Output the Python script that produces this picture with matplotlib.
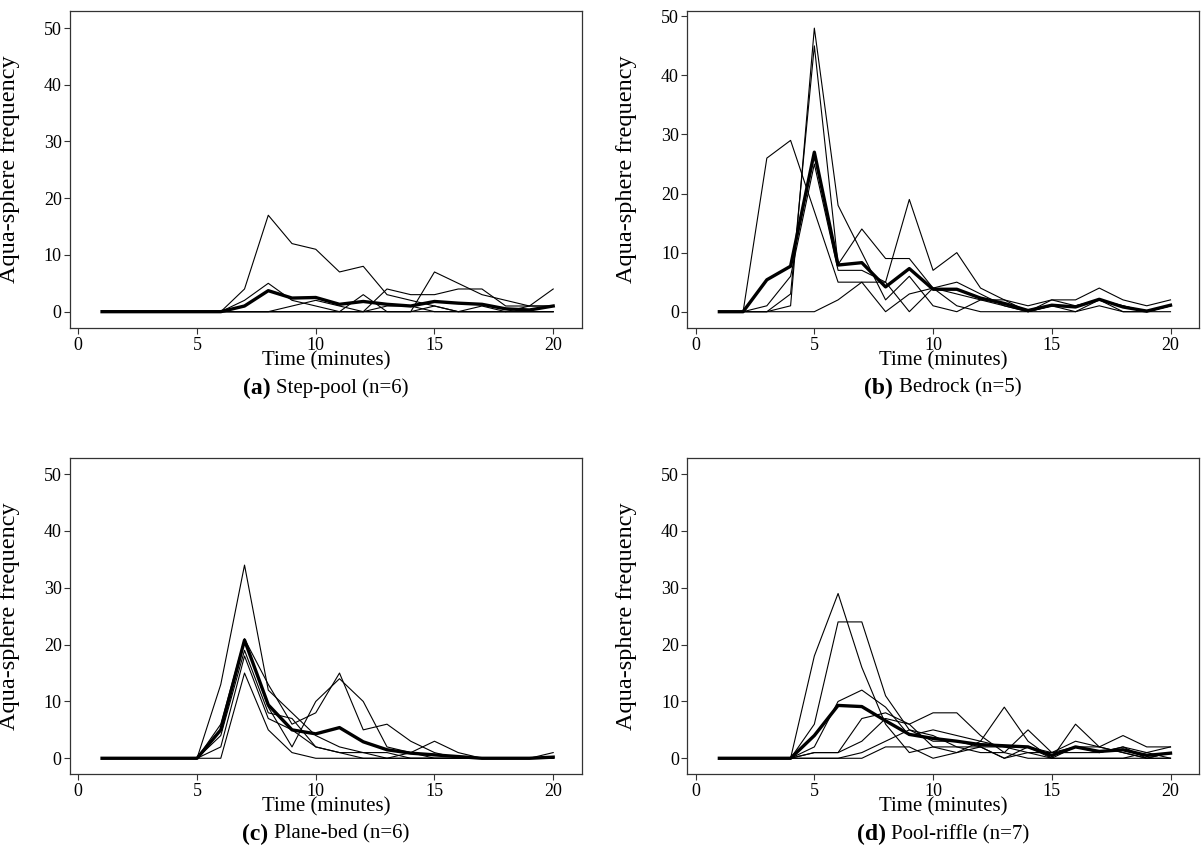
import matplotlib
matplotlib.use("Agg")
import matplotlib.pyplot as plt
import numpy as np

plt.rcParams['font.family'] = ['Liberation Serif', 'DejaVu Serif']

minutes = list(range(1, 21))

# (a) Step-pool (n=6)
a_lines = [
    [0, 0, 0, 0, 0, 0, 4, 17, 12, 11, 7, 8, 3, 2, 1, 0, 0, 0, 0, 0],
    [0, 0, 0, 0, 0, 0, 0, 0, 0, 0, 0, 0, 0, 0, 7, 5, 3, 2, 1, 4],
    [0, 0, 0, 0, 0, 0, 2, 5, 2, 1, 0, 0, 0, 0, 0, 0, 0, 0, 1, 1],
    [0, 0, 0, 0, 0, 0, 0, 0, 1, 2, 1, 0, 1, 1, 0, 0, 1, 0, 0, 0],
    [0, 0, 0, 0, 0, 0, 0, 0, 0, 0, 0, 3, 0, 0, 1, 0, 0, 0, 0, 0],
    [0, 0, 0, 0, 0, 0, 0, 0, 0, 0, 0, 0, 4, 3, 3, 4, 4, 1, 1, 1],
]
a_mean = [0, 0, 0, 0, 0, 0, 1.0, 3.7, 2.4, 2.5, 1.3, 1.8, 1.3, 1.0, 1.8, 1.5, 1.3, 0.5, 0.3, 1.0]

# (b) Bedrock (n=5)
b_lines = [
    [0, 0, 26, 29, 17, 5, 5, 5, 0, 4, 3, 2, 1, 0, 1, 0, 2, 1, 0, 1],
    [0, 0, 0, 1, 48, 18, 10, 2, 6, 1, 0, 2, 2, 0, 2, 2, 4, 2, 1, 2],
    [0, 0, 0, 3, 45, 8, 14, 9, 9, 4, 5, 3, 1, 0, 1, 1, 2, 1, 0, 1],
    [0, 0, 1, 6, 25, 7, 7, 5, 19, 7, 10, 4, 2, 1, 2, 1, 2, 0, 0, 1],
    [0, 0, 0, 0, 0, 2, 5, 0, 3, 4, 1, 0, 0, 0, 0, 0, 1, 0, 0, 0],
]
b_mean = [0, 0, 5.4, 7.7, 27, 7.9, 8.3, 4.2, 7.3, 3.8, 3.8, 2.3, 1.4, 0.2, 1.1, 0.8, 2.1, 0.8, 0.1, 1.1]

# (c) Plane-bed (n=6)
c_lines = [
    [0, 0, 0, 0, 0, 13, 34, 12, 8, 4, 2, 1, 1, 0, 0, 0, 0, 0, 0, 0],
    [0, 0, 0, 0, 0, 6, 21, 13, 6, 8, 15, 5, 6, 3, 1, 0, 0, 0, 0, 0],
    [0, 0, 0, 0, 0, 5, 21, 9, 2, 10, 14, 10, 2, 1, 3, 1, 0, 0, 0, 0],
    [0, 0, 0, 0, 0, 4, 19, 8, 7, 2, 1, 1, 0, 1, 0, 0, 0, 0, 0, 0],
    [0, 0, 0, 0, 0, 2, 18, 7, 5, 2, 1, 0, 0, 0, 0, 0, 0, 0, 0, 0],
    [0, 0, 0, 0, 0, 0, 15, 5, 1, 0, 0, 0, 0, 0, 0, 0, 0, 0, 0, 1],
]
c_mean = [0, 0, 0, 0, 0, 5.0, 20.8, 9.4, 5.0, 4.3, 5.4, 2.9, 1.5, 0.9, 0.6, 0.3, 0, 0, 0, 0.2]

# (d) Pool-riffle (n=7)
d_lines = [
    [0, 0, 0, 0, 18, 29, 16, 6, 1, 2, 2, 1, 1, 0, 0, 2, 1, 2, 0, 1],
    [0, 0, 0, 0, 6, 24, 24, 11, 5, 3, 3, 2, 2, 1, 1, 3, 2, 1, 0, 0],
    [0, 0, 0, 0, 2, 10, 12, 9, 4, 5, 4, 3, 9, 3, 0, 6, 2, 4, 2, 2],
    [0, 0, 0, 0, 1, 1, 7, 8, 6, 8, 8, 4, 1, 5, 1, 1, 1, 2, 1, 2],
    [0, 0, 0, 0, 1, 1, 3, 7, 6, 2, 1, 3, 2, 2, 1, 2, 2, 1, 0, 1],
    [0, 0, 0, 0, 0, 0, 1, 3, 5, 4, 2, 2, 0, 1, 0, 0, 0, 0, 1, 0],
    [0, 0, 0, 0, 0, 0, 0, 2, 2, 0, 1, 2, 0, 2, 0, 0, 0, 0, 0, 0],
]
d_mean = [0, 0, 0, 0, 4.0, 9.3, 9.1, 6.6, 4.2, 3.5, 3.0, 2.4, 2.2, 2.0, 0.5, 2.0, 1.2, 1.5, 0.5, 0.9]

panel_letters = ["(a)", "(b)", "(c)", "(d)"]
panel_names = ["Step-pool (n=6)", "Bedrock (n=5)", "Plane-bed (n=6)", "Pool-riffle (n=7)"]
x_ticks = [0, 5, 10, 15, 20]
y_ticks = [0, 10, 20, 30, 40, 50]

W, H = 1201, 866
fig = plt.figure(figsize=(W / 100, H / 100), dpi=100)
renderer = fig.canvas.get_renderer()

# pixel boxes: left, top, right, bottom
boxes = [(70, 11, 581.7, 328.3), (687.3, 11, 1199, 328.3),
         (70, 457.7, 581.7, 774.3), (687.3, 457.7, 1199, 774.3)]
ylims = [(-2.93, 53.0), (-2.81, 50.9), (-2.82, 52.9), (-2.82, 52.9)]
xlim = (-0.35, 21.2)

all_lines = [a_lines, b_lines, c_lines, d_lines]
all_means = [a_mean, b_mean, c_mean, d_mean]

for i in range(4):
    l, t, r, b = boxes[i]
    ax = fig.add_axes([l / W, 1 - b / H, (r - l) / W, (b - t) / H])
    for series in all_lines[i]:
        ax.plot(minutes, series, color='black', lw=0.8)
    ax.plot(minutes, all_means[i], color='black', lw=2.4, solid_joinstyle='round')
    ax.set_xlim(*xlim)
    ax.set_ylim(*ylims[i])
    ax.set_xticks(x_ticks)
    ax.set_yticks(y_ticks)
    ax.tick_params(direction='out', length=4, width=0.8, labelsize=13, pad=2,
                   color='#333333')
    for s in ax.spines.values():
        s.set_color('#333333')
        s.set_linewidth(0.9)
    ax.set_ylabel("Aqua-sphere frequency", fontsize=17.5)
    ax.yaxis.set_label_coords(-0.098, 0.5)
    cx = (l + r) / 2
    fig.text(cx / W, 1 - (b + 33) / H, "Time (minutes)", ha='center', va='center', fontsize=15)
    # caption: bold letter + name, centred as one piece
    t1 = fig.text(0, 0, panel_letters[i] + " ", fontsize=17, fontweight='bold',
                  ha='left', va='center')
    t2 = fig.text(0, 0, panel_names[i], fontsize=15, ha='left', va='center')
    w1 = t1.get_window_extent(renderer).width
    w2 = t2.get_window_extent(renderer).width
    x0 = cx - (w1 + w2) / 2
    ycap = 1 - (b + 60) / H
    t1.set_position((x0 / W, ycap))
    t2.set_position(((x0 + w1) / W, ycap))

fig.savefig("out.png", dpi=100)
